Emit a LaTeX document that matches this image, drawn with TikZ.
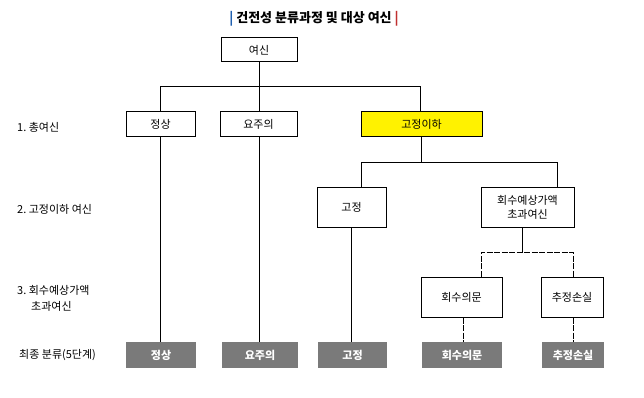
\documentclass[tikz,border=0pt]{standalone}
\usepackage{fontspec}
\setmainfont{Noto Sans CJK KR}
\begin{document}
\begin{tikzpicture}[x=1pt,y=-1pt,
  box/.style={draw=black,line width=1pt,fill=white,inner sep=0pt,font=\fontsize{11}{14}\selectfont,align=center},
  fin/.style={fill=gray!95!black!80,draw=none,inner sep=0pt,minimum height=26pt,text=white,font=\fontsize{11}{13}\selectfont\bfseries},
  lab/.style={anchor=west,inner sep=0pt,font=\fontsize{11}{16}\selectfont,align=left},
  ln/.style={line width=1pt},
  dl/.style={line width=1pt,dash pattern=on 6pt off 1.5pt}]
\useasboundingbox (0,0) rectangle (644,398);
\definecolor{finalgray}{HTML}{7A7A7A}
\definecolor{hl}{HTML}{FFF200}
% title
\node (title) at (314,19) {\fontsize{13}{15}\selectfont\bfseries{\color[HTML]{2060B0}|}\ 건전성 분류과정 및 대상 여신\ {\color[HTML]{C03030}|}};
% nodes
\node[box,minimum width=76pt,minimum height=24pt] (yeosin) at (259,50) {여신};
\node[box,minimum width=69pt,minimum height=25pt] (js) at (160.5,124.5) {정상};
\node[box,minimum width=77pt,minimum height=25pt] (yj) at (258.5,124.5) {요주의};
\node[box,fill=hl,minimum width=121pt,minimum height=25pt] (gi) at (421.5,124.5) {고정이하};
\node[box,minimum width=69pt,minimum height=40pt] (gj) at (351.5,207) {고정};
\node[box,minimum width=93pt,minimum height=40pt] (hs) at (527.5,207) {회수예상가액\\초과여신};
\node[box,minimum width=81pt,minimum height=40pt] (hu) at (461.5,297) {회수의문};
\node[box,minimum width=62pt,minimum height=40pt] (cs) at (572,297) {추정손실};
\node[fin,fill=finalgray,minimum width=70pt] (f1) at (161,355) {정상};
\node[fin,fill=finalgray,minimum width=76pt] (f2) at (260,355) {요주의};
\node[fin,fill=finalgray,minimum width=69pt] (f3) at (352.5,355) {고정};
\node[fin,fill=finalgray,minimum width=80pt] (f4) at (462,355) {회수의문};
\node[fin,fill=finalgray,minimum width=62pt] (f5) at (573,355) {추정손실};
% left labels
\node[lab] (l1) at (17,127) {1.\ 총여신};
\node[lab] (l2) at (17,209) {2.\ 고정이하 여신};
\node[lab] (l3) at (17,298) {3.\ 회수예상가액\\\hspace*{14pt}초과여신};
\node[lab] (l4) at (19,355) {최종 분류(5단계)};
% coordinates
\coordinate (b1) at (259,87);
\coordinate (b2) at (421,162);
\coordinate (b3) at (522,252);
% connectors
\draw[ln] (yeosin.south) -- (b1);
\draw[ln] (js.north -| 160,0) -- (160,87) -- (420,87) -- (gi.north -| 420,0);
\draw[ln] (b1) -- (yj.north -| b1);
\draw[ln] (gi.south -| b2) -- (b2);
\draw[ln] (gj.north -| 361,0) -- (361,162) -- (557,162) -- (hs.north -| 557,0);
\draw[ln] (hs.south -| b3) -- (b3);
\draw[dl] (hu.north -| 481,0) -- (481,252) -- (573,252) -- (cs.north -| 573,0);
\draw[ln] (js.south -| 160,0) -- (f1.north -| 160,0);
\draw[ln] (yj.south -| 259,0) -- (f2.north -| 259,0);
\draw[ln] (gj.south -| 351,0) -- (f3.north -| 351,0);
\draw[dl] (hu.south -| 463,0) -- (f4.north -| 463,0);
\draw[dl] (cs.south -| 573,0) -- (f5.north -| 573,0);
\end{tikzpicture}
\end{document}
